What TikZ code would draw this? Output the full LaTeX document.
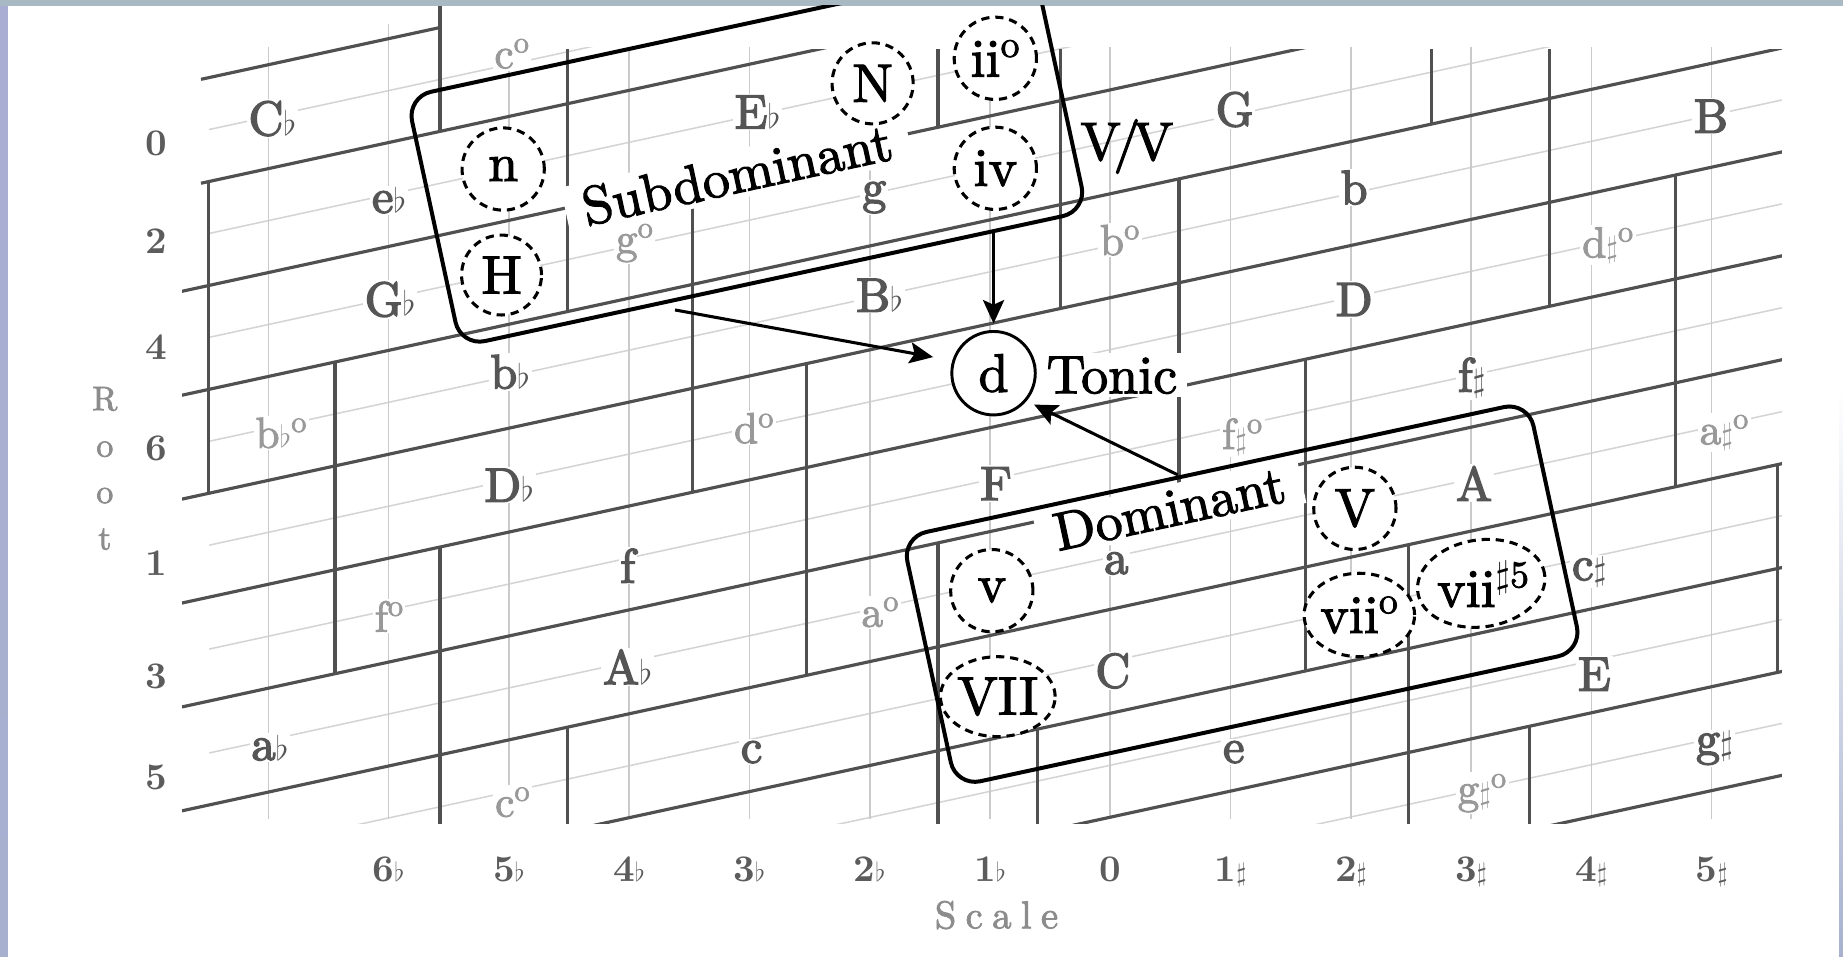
\documentclass[tikz,border=0pt]{standalone}
\usepackage{fix-cm}
\usepackage{fontspec}
\setmainfont{lmroman10-regular.otf}[BoldFont=lmroman10-bold.otf]
\newfontfamily\heavyfont{lmroman10-regular.otf}[FakeBold=3]
\newfontfamily\midfont{lmroman10-regular.otf}[FakeBold=2]
\usetikzlibrary{shapes.geometric,arrows.meta}
\definecolor{gridc}{HTML}{505050}
\definecolor{chordc}{HTML}{555555}
\definecolor{dimc}{HTML}{999999}
\definecolor{numc}{HTML}{5C5C5C}
\definecolor{axisc}{HTML}{8C8C8C}
\definecolor{lightc}{HTML}{D4D4D4}
\definecolor{lightv}{HTML}{CACACA}
\definecolor{frameT}{HTML}{A9B9C3}
\definecolor{frameA}{HTML}{A9ADD3}
\definecolor{frameB}{HTML}{A9C6BA}
\definecolor{frameC}{HTML}{A7B1CF}
\newcommand\myflat{\ensuremath{\scriptstyle\flat}}
\newcommand\mysharp{\ensuremath{\scriptstyle\sharp}}
\newcommand\dimo{\textsuperscript{o}}
\tikzset{
  darkline/.style={draw=gridc, line width=2.7pt},
  lightline/.style={draw=lightc, line width=1.3pt},
  lightvert/.style={draw=lightv, line width=1.4pt},
  chord/.style={anchor=base, text=chordc, fill=white, inner sep=1.5pt, font=\heavyfont\fontsize{41}{41}\selectfont},
  dimin/.style={anchor=base, text=dimc, fill=white, inner sep=1.5pt, font=\midfont\fontsize{37}{37}\selectfont},
  rownum/.style={anchor=base, text=numc, inner sep=1pt, font=\fontsize{32}{32}\selectfont\bfseries},
  fntext/.style={text=black, font=\midfont\fontsize{46}{46}\selectfont},
  slanttext/.style={fntext, fill=white, rotate=12.2, anchor=base, inner xsep=15pt, inner ysep=4pt},
  regionbox/.style={rectangle, draw=black, line width=3.4pt, rounded corners=21pt, minimum width=545pt, minimum height=217pt, rotate=12.2, inner sep=0pt},
  fncirc/.style={circle, draw=black, line width=2.6pt, dash pattern=on 7pt off 5pt, fill=white, inner sep=0pt, minimum size=70pt, fntext},
  fnell/.style={ellipse, draw=black, line width=2.6pt, dash pattern=on 7pt off 5pt, fill=white, inner sep=0pt, fntext},
  tonicc/.style={circle, draw=black, line width=2.5pt, fill=white, inner sep=0pt, minimum size=71pt, fntext},
  arrowc/.style={draw=black, line width=2.6pt, -{Stealth[length=20pt,width=18pt,inset=4pt]}},
}
\begin{document}
\begin{tikzpicture}[x=1pt,y=-1pt]
\useasboundingbox (0,0) rectangle (1568,814);
% frame
\shade[top color=frameA, middle color=frameB, bottom color=frameC] (0,0) rectangle (7,814);
\fill[frameT] (0,0) rectangle (1568,5);
\shade[top color=white, middle color=frameB, bottom color=frameC] (1564.5,330) rectangle (1568,814);
\fill[white] (7,5) rectangle (1564.5,814);

\begin{scope}
\clip (7,5) rectangle (1564.5,814);

% light slanted lines
\begin{scope}
\clip (178,40) rectangle (1516,701);
\foreach \v in {0.5,1.5,...,9.5}
  \draw[lightline] (178,{71+88.4*\v-0.217*23}) -- (1516,{71+88.4*\v-0.217*1361});
\end{scope}
% light vertical lines
\foreach \u in {-7,...,5}
  \draw[lightvert] ({944.6+102.33*\u},40) -- ({944.6+102.33*\u},697);
\draw[lightvert] (330.6,20) -- (330.6,40);

% dark slanted lines
\begin{scope}
\clip (155,42) rectangle (1516,701);
\foreach \v in {2,...,10}
  \draw[darkline] (150,{71+88.4*\v+1.085}) -- (1520,{71+88.4*\v-296.2});
\draw[darkline] (171,155.9) -- (1520,{71+88.4-296.2});
\end{scope}
\draw[darkline] (171,67.5) -- (374.4,23.4);

% dark vertical segments
\draw[darkline] (177.5,154.5) -- (177.5,419.7);
\draw[darkline] (285,308) -- (285,573.2);
\draw[darkline] (374.4,5) -- (374.4,111.8);
\draw[darkline] (374.4,465.4) -- (374.4,701);
\draw[darkline] (482.5,42) -- (482.5,265.2);
\draw[darkline] (482.5,618.8) -- (482.5,701);
\draw[darkline] (589,153.6) -- (589,418.8);
\draw[darkline] (686.5,309.3) -- (686.5,574.5);
\draw[darkline] (798,42) -- (798,108.3);
\draw[darkline] (798,461.9) -- (798,701);
\draw[darkline] (883,620.2) -- (883,701);
\draw[darkline] (902.5,42) -- (902.5,262.4);
\draw[darkline] (1003,152.2) -- (1003,417.4);
\draw[darkline] (1110.5,305.7) -- (1110.5,570.9);
\draw[darkline] (1198.5,463.4) -- (1198.5,701);
\draw[darkline] (1218,42) -- (1218,105.5);
\draw[darkline] (1301,617.9) -- (1301,701);
\draw[darkline] (1318,42) -- (1318,260.6);
\draw[darkline] (1425.5,148.9) -- (1425.5,414.1);
\draw[darkline] (1512,395.3) -- (1512,572.1);

% major / minor chord labels
\node[chord] (Cb) at (231.8,114.9) {C\myflat};
\node[chord] (eb) at (331.1,181) {e\myflat};
\node[chord] (Gb) at (331.9,268.8) {G\myflat};
\node[chord] (bb) at (434.1,330.4) {b\myflat};
\node[chord] (Db) at (433.2,426.8) {D\myflat};
\node[chord] (fm) at (534,495.7) {f};
\node[chord] (Ab) at (534,582) {A\myflat};
\node[chord] (ab) at (229.7,646.6) {a\myflat};
\node[chord] (Eb) at (644.5,109.2) {E\myflat};
\node[chord] (gm) at (743.8,173) {g};
\node[chord] (Bb) at (748.3,265.2) {B\myflat};
\node[chord] (cm) at (639.4,648.9) {c};
\node[chord] (FM) at (847.4,425.4) {F};
\node[chord] (am) at (949.8,488.3) {a};
\node[chord] (CM) at (946.8,584.8) {C};
\node[chord] (em) at (1049.7,648.9) {e};
\node[chord] (GM) at (1050.4,107.2) {G};
\node[chord] (bm) at (1152.1,173.6) {b};
\node[chord] (DM) at (1152.1,268.8) {D};
\node[chord] (BM) at (1455.6,112.9) {B};
\node[chord] (fs) at (1252.1,333.2) {f\mysharp};
\node[chord] (AM) at (1254.1,426) {A};
\node[chord] (cs) at (1352.1,493.5) {c\mysharp};
\node[chord] (EM) at (1356.5,587.6) {E};
\node[chord] (gs) at (1458.6,642.3) {g\mysharp};

% diminished labels
\node[dimin] (cdimA) at (435.6,58.1) {c\dimo};
\node[dimin] (gdim) at (540,215.5) {g\dimo};
\node[dimin] (bdim) at (952.8,217) {b\dimo};
\node[dimin] (dsdim) at (1368,219) {d\mysharp\dimo};
\node[dimin] (bbdim) at (239.3,381) {b\myflat\dimo};
\node[dimin] (ddim) at (641.5,377) {d\dimo};
\node[dimin] (fsdim) at (1057,382) {f\mysharp\dimo};
\node[dimin] (asdim) at (1467,378) {a\mysharp\dimo};
\node[dimin] (fdim) at (331.1,537.4) {f\dimo};
\node[dimin] (adim) at (748.9,533.2) {a\dimo};
\node[dimin] (cdimB) at (436.2,694.8) {c\dimo};
\node[dimin] (gsdim) at (1261,683.5) {g\mysharp\dimo};

% root numbers
\node[rownum] (r0) at (133,132) {0};
\node[rownum] (r2) at (133,215.5) {2};
\node[rownum] (r4) at (133,306) {4};
\node[rownum] (r6) at (133,391.4) {6};
\node[rownum] (r1) at (133,489.2) {1};
\node[rownum] (r3) at (133,585.6) {3};
\node[rownum] (r5) at (133,672.1) {5};
% scale numbers
\node[rownum] (s6) at (330.6,750) {6\myflat};
\node[rownum] (s5) at (432.9,750) {5\myflat};
\node[rownum] (s4) at (535.3,750) {4\myflat};
\node[rownum] (s3) at (637.6,750) {3\myflat};
\node[rownum] (s2) at (739.9,750) {2\myflat};
\node[rownum] (s1) at (842.3,750) {1\myflat};
\node[rownum] (z0) at (944.6,750) {0};
\node[rownum] (p1) at (1046.9,750) {1\mysharp};
\node[rownum] (p2) at (1149.3,750) {2\mysharp};
\node[rownum] (p3) at (1251.6,750) {3\mysharp};
\node[rownum] (p4) at (1353.9,750) {4\mysharp};
\node[rownum] (p5) at (1456.3,750) {5\mysharp};
% axis titles
\node[text=axisc, align=center, anchor=north, inner sep=0pt, font=\midfont\fontsize{29}{39.5}\selectfont] (root) at (89.2,329) {R\\o\\o\\t};
\node[text=axisc, anchor=base, inner sep=0pt, font=\midfont\fontsize{33}{33}\selectfont\addfontfeatures{LetterSpace=24}] (scale) at (847.8,789.8) {Scale};

% function texts
\node[slanttext] (subtxt) at (630.4,163.6) {Subdominant};
\node[slanttext] (domtxt) at (998.1,447.7) {Dominant};
\node[fntext, anchor=base, fill=white, inner xsep=8pt, inner ysep=3pt] (tonictxt) at (946,334.6) {Tonic};
\node[fntext, anchor=base, inner sep=1pt] (vv) at (958.7,136.1) {V\kern-0.14em/\kern-0.14em V};

% region boxes
\node[regionbox] (subbox) at (635.4,131) {};
\node[regionbox] (dombox) at (1056.8,505.5) {};

% function circles
\node[fncirc] (cn) at (428.1,143.8) {n};
\node[fncirc, minimum size=68pt] (cH) at (426.7,234) {H};
\node[fncirc, minimum size=69pt] (cN) at (742.4,70.9) {N};
\node[fncirc] (cii) at (846.8,49.6) {ii\dimo};
\node[fncirc] (civ) at (846.8,143.2) {iv};
\node[fncirc] (cv) at (843.8,502.5) {v};
\node[fnell, minimum width=91pt, minimum height=68pt] (cVII) at (848.9,592.7) {VII};
\node[fncirc] (cV) at (1152.7,432.5) {V};
\node[fnell, minimum width=90pt, minimum height=71pt] (cvii) at (1156.5,523.2) {vii\dimo};
\node[fnell, rotate=8, minimum width=109pt, minimum height=74pt] (e5) at (1260.2,496.3) {};
\node[fntext, inner sep=0pt] (cvii5) at (1262,497) {vii\textsuperscript{$\sharp$5}};

% tonic
\node[tonicc] (dc) at (845.3,317.5) {d};

% arrows
\coordinate (a1s) at (574.3,263.7);
\coordinate (a2s) at (845.3,198);
\coordinate (a3s) at (1002,404);
\draw[arrowc, shorten >=16.5pt] (a1s) -- (dc.163);
\draw[arrowc, shorten >=5.5pt] (a2s) -- (dc.north);
\draw[arrowc, shorten >=7pt] (a3s) -- (dc.-40);
\end{scope}
\end{tikzpicture}
\end{document}
